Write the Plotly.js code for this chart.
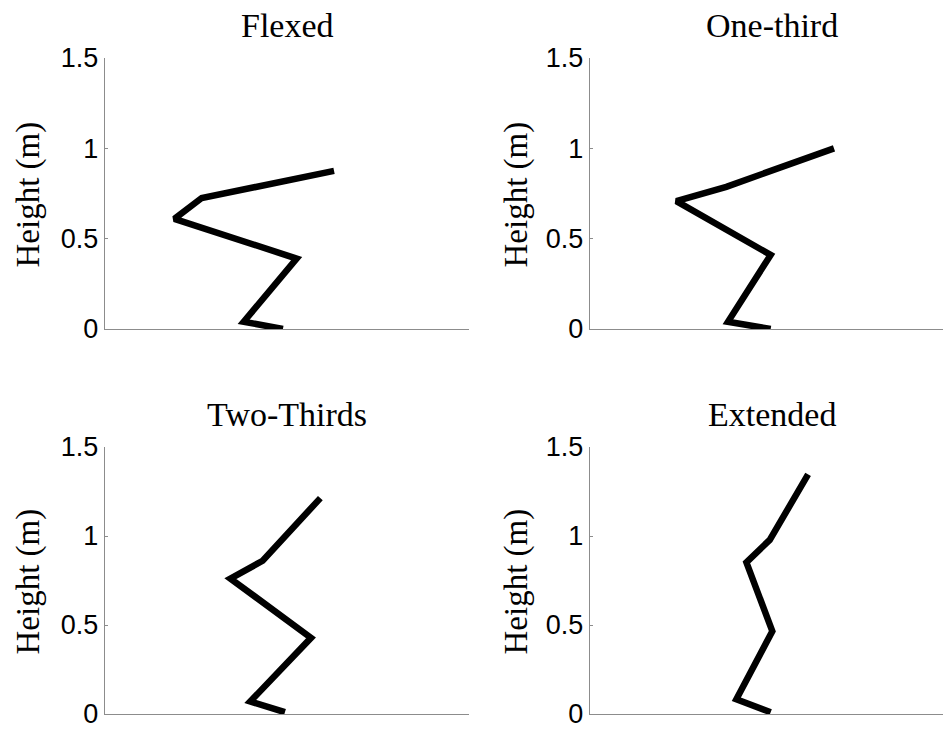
<!DOCTYPE html>
<html>
<head>
<meta charset="utf-8">
<script src="https://cdn.plot.ly/plotly-3.0.1.min.js"></script>
<style>
  html, body { margin: 0; padding: 0; background: #fff; }
  #chart { width: 943px; height: 731px; }
</style>
</head>
<body>
<div id="chart"></div>
<script>
// Panel titles
const panelTitles = ["Flexed", "One-third", "Two-Thirds", "Extended"];
// Horizontal position (arbitrary units) and height (m) of each posture polyline
const flexedX    = [0.975, 0.76, 1.05, 0.38, 0.53, 1.255];
const flexedY    = [0.0, 0.04, 0.39, 0.61, 0.725, 0.875];
const oneThirdX  = [0.99, 0.756, 0.99, 0.473, 0.747, 1.337];
const oneThirdY  = [0.0, 0.04, 0.41, 0.708, 0.787, 1.0];
const twoThirdsX = [0.986, 0.796, 1.129, 0.687, 0.864, 1.18];
const twoThirdsY = [0.01, 0.07, 0.428, 0.761, 0.861, 1.213];
const extendedX  = [0.99, 0.802, 0.999, 0.857, 0.985, 1.195];
const extendedY  = [0.01, 0.083, 0.465, 0.852, 0.978, 1.346];
// Y tick values / labels
const yTickVals = [0, 0.5, 1, 1.5];
const yTickText = ["0", "0.5", "1", "1.5"];
const yTitle = "Height (m)";

const seriesX = [flexedX, oneThirdX, twoThirdsX, extendedX];
const seriesY = [flexedY, oneThirdY, twoThirdsY, extendedY];

const W = 943, H = 731;
const serif = "Liberation Serif, Times New Roman, serif";
const sans = "Liberation Sans, Arial, sans-serif";
const axisGray = "#8c8c8c";

const traces = seriesX.map((xs, i) => ({
  type: "scatter", mode: "lines",
  x: xs, y: seriesY[i],
  xaxis: i === 0 ? "x" : "x" + (i + 1),
  yaxis: i === 0 ? "y" : "y" + (i + 1),
  line: { color: "#000", width: 6.5 },
  hoverinfo: "skip", showlegend: false
}));

// pixel geometry of panels
const colLeft = [105, 590];
const colRight = [469, 943];
const rowTop = [58, 447];
const rowBot = [329, 714];
const pxPerUnit = 182.5;

const layout = {
  width: W, height: H,
  margin: { l: 0, r: 0, t: 0, b: 0 },
  paper_bgcolor: "#fff", plot_bgcolor: "#fff",
  showlegend: false,
  annotations: []
};

for (let i = 0; i < 4; i++) {
  const c = i % 2, r = Math.floor(i / 2);
  const sfx = i === 0 ? "" : String(i + 1);
  const xl = colLeft[c], xr = colRight[c];
  const yt = rowTop[r], yb = rowBot[r];
  layout["xaxis" + sfx] = {
    domain: [xl / W, xr / W],
    range: [0, (xr - xl) / pxPerUnit],
    anchor: "y" + sfx,
    showgrid: false, zeroline: false,
    showline: true, linecolor: axisGray, linewidth: 1.2,
    ticks: "", showticklabels: false, fixedrange: true
  };
  layout["yaxis" + sfx] = {
    domain: [1 - yb / H, 1 - yt / H],
    range: [0, 1.5],
    anchor: "x" + sfx,
    showgrid: false, zeroline: false,
    showline: true, linecolor: axisGray, linewidth: 1.2,
    ticks: "inside", ticklen: 3, tickcolor: axisGray, tickwidth: 1,
    tickvals: yTickVals, ticktext: yTickText,
    ticklabeloverflow: "allow",
    tickfont: { family: sans, size: 27, color: "#000" },
    fixedrange: true
  };
  // panel title
  const cx = (xl + (c === 1 ? 954 : xr)) / 2;
  layout.annotations.push({
    text: panelTitles[i], xref: "paper", yref: "paper",
    x: cx / W, y: 1 - (yt - 33) / H,
    xanchor: "center", yanchor: "middle", showarrow: false,
    font: { family: serif, size: 34, color: "#000" }
  });
  // y axis title
  layout.annotations.push({
    text: yTitle, xref: "paper", yref: "paper",
    x: (c === 0 ? 28 : 516) / W, y: 1 - ((yt + yb) / 2 + 1) / H,
    xanchor: "center", yanchor: "middle", textangle: -90, showarrow: false,
    font: { family: serif, size: 33, color: "#000" }
  });
}

Plotly.newPlot("chart", traces, layout, { displayModeBar: false, staticPlot: true });
</script>
</body>
</html>
